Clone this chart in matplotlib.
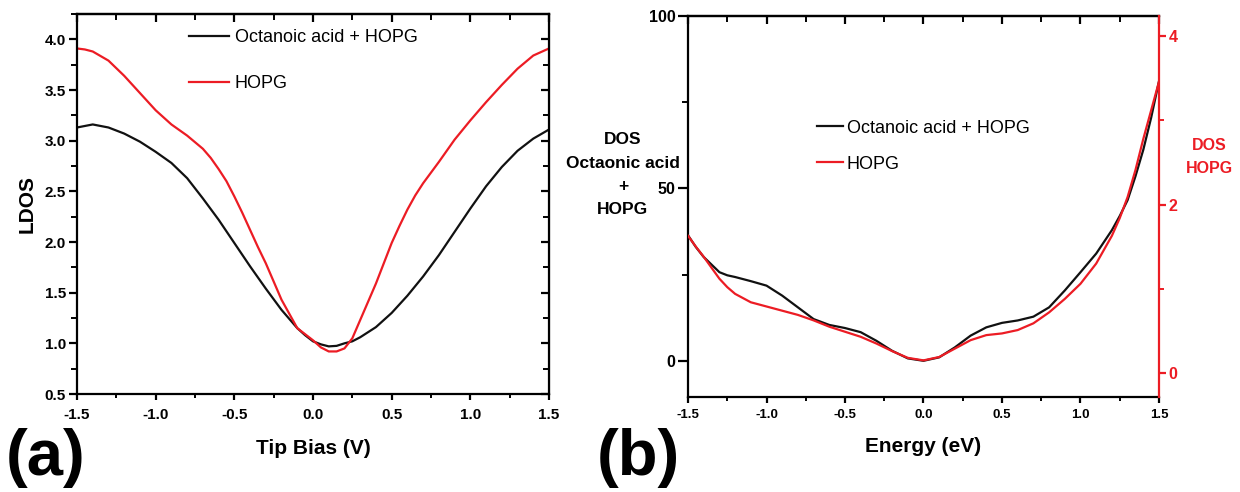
"""
Two-panel LDOS / DOS comparison: octanoic acid on HOPG vs bare HOPG.
"""

import matplotlib
matplotlib.use('Agg')
import matplotlib.pyplot as plt
from matplotlib.ticker import MultipleLocator

plt.rcParams['font.family'] = ['Liberation Sans', 'DejaVu Sans']

RED = '#ec1c24'
BLACK = '#111111'

# Panel (a): LDOS vs tip bias
bias_oct = [-1.5, -1.4, -1.3, -1.2, -1.1, -1.0, -0.9, -0.8, -0.7, -0.6, -0.5,
            -0.4, -0.3, -0.2, -0.1, -0.05, 0.0, 0.05, 0.1, 0.15, 0.2, 0.25,
            0.3, 0.4, 0.5, 0.6, 0.7, 0.8, 0.9, 1.0, 1.1, 1.2, 1.3, 1.4, 1.5]
ldos_oct = [3.13, 3.16, 3.13, 3.07, 2.99, 2.89, 2.78, 2.63, 2.43, 2.22, 1.99,
            1.76, 1.54, 1.33, 1.15, 1.08, 1.02, 0.99, 0.97, 0.975, 1.00, 1.02,
            1.06, 1.16, 1.30, 1.47, 1.66, 1.87, 2.10, 2.33, 2.55, 2.74, 2.90,
            3.02, 3.11]

bias_hopg = [-1.5, -1.45, -1.4, -1.3, -1.2, -1.1, -1.0, -0.9, -0.8, -0.7, -0.65,
             -0.6, -0.55, -0.5, -0.45, -0.4, -0.35, -0.3, -0.25, -0.2, -0.15,
             -0.1, -0.05, 0.0, 0.05, 0.1, 0.15, 0.2, 0.25, 0.3, 0.35, 0.4, 0.45,
             0.5, 0.55, 0.6, 0.65, 0.7, 0.8, 0.9, 1.0, 1.1, 1.2, 1.3, 1.4, 1.5]
ldos_hopg = [3.91, 3.90, 3.88, 3.79, 3.64, 3.47, 3.30, 3.16, 3.05, 2.92, 2.83,
             2.72, 2.60, 2.45, 2.29, 2.12, 1.95, 1.79, 1.61, 1.43, 1.29,
             1.15, 1.09, 1.03, 0.96, 0.92, 0.92, 0.95, 1.05, 1.23, 1.41, 1.59,
             1.79, 1.99, 2.16, 2.32, 2.46, 2.58, 2.79, 3.01, 3.20, 3.38, 3.55,
             3.71, 3.84, 3.91]

# Panel (b): calculated DOS vs energy
energy = [-1.5, -1.45, -1.4, -1.3, -1.25, -1.2, -1.1, -1.0, -0.9, -0.8, -0.7,
          -0.6, -0.5, -0.4, -0.3, -0.2, -0.1, 0.0, 0.1, 0.2, 0.3, 0.4, 0.5,
          0.6, 0.7, 0.8, 0.9, 1.0, 1.1, 1.2, 1.25, 1.3, 1.35, 1.4, 1.45, 1.5]
dos_oct = [36.4, 33.0, 30.1, 25.7, 24.8, 24.3, 23.1, 21.8, 18.9, 15.5, 12.1,
           10.4, 9.5, 8.3, 5.8, 2.9, 0.7, 0.0, 1.0, 3.9, 7.3, 9.7, 11.0,
           11.7, 12.8, 15.5, 20.4, 25.7, 31.1, 37.9, 42.0, 46.6, 53.5, 61.2,
           70.5, 81.1]
dos_hopg = [1.63, 1.50, 1.38, 1.12, 1.02, 0.94, 0.84, 0.79, 0.74, 0.69, 0.625,
            0.55, 0.49, 0.43, 0.35, 0.26, 0.18, 0.15, 0.19, 0.29, 0.39, 0.45,
            0.47, 0.51, 0.59, 0.72, 0.88, 1.06, 1.30, 1.63, 1.84, 2.09, 2.41,
            2.78, 3.12, 3.46]

legend_labels = ['Octanoic acid + HOPG', 'HOPG']
left_title_b = ['DOS', 'Octaonic acid', '+', 'HOPG']


def style_box(ax, xminor, yminor):
    # Origin-like frame: ticks out on bottom/left, in on top
    for sp in ax.spines.values():
        sp.set_linewidth(1.6)
    ax.xaxis.set_minor_locator(MultipleLocator(xminor))
    ax.yaxis.set_minor_locator(MultipleLocator(yminor))
    ax.tick_params(axis='x', which='major', direction='out', length=4, width=1.6,
                   top=False, pad=6)
    ax.tick_params(axis='x', which='minor', direction='out', length=3, width=1.4,
                   top=False)
    top = ax.secondary_xaxis('top')
    top.xaxis.set_major_locator(MultipleLocator(0.5))
    top.xaxis.set_minor_locator(MultipleLocator(xminor))
    top.tick_params(which='major', direction='in', length=6, width=1.6, labeltop=False)
    top.tick_params(which='minor', direction='in', length=4, width=1.4)
    top.spines['top'].set_linewidth(1.6)
    return top


fig = plt.figure(figsize=(12.4, 4.92), dpi=100)

# ---- (a) ----
ax_a = fig.add_axes([77 / 1240, 1 - 394 / 492, 472 / 1240, 380 / 492])
ax_a.plot(bias_oct, ldos_oct, color=BLACK, lw=1.6, label=legend_labels[0])
ax_a.plot(bias_hopg, ldos_hopg, color=RED, lw=1.6, label=legend_labels[1])
ax_a.set_xlim(-1.5, 1.5)
ax_a.set_ylim(0.5, 4.25)
ax_a.xaxis.set_major_locator(MultipleLocator(0.5))
ax_a.yaxis.set_major_locator(MultipleLocator(0.5))
ax_a.xaxis.set_major_formatter(lambda v, p: f'{v:.1f}')
ax_a.yaxis.set_major_formatter(lambda v, p: f'{v:.1f}')
style_box(ax_a, 0.25, 0.25)
ax_a.tick_params(axis='y', which='major', direction='out', length=6, width=1.6, pad=2)
ax_a.tick_params(axis='y', which='minor', direction='out', length=4, width=1.4)
right_a = ax_a.secondary_yaxis('right')
right_a.yaxis.set_major_locator(MultipleLocator(0.5))
right_a.yaxis.set_minor_locator(MultipleLocator(0.25))
right_a.tick_params(which='major', direction='in', length=6, width=1.6, labelright=False)
right_a.tick_params(which='minor', direction='in', length=4, width=1.4)
for lab in ax_a.get_xticklabels() + ax_a.get_yticklabels():
    lab.set_fontweight('bold')
    lab.set_fontsize(11)
ax_a.set_xlabel('Tip Bias (V)', fontsize=15, fontweight='bold', labelpad=12)
ax_a.set_ylabel('LDOS', fontsize=15, fontweight='bold', labelpad=6)
ax_a.legend(loc='upper left', bbox_to_anchor=(0.237, 0.961), frameon=False,
            fontsize=13, borderpad=0, borderaxespad=0, handlelength=2.2,
            handletextpad=0.35, labelspacing=1.61)

# ---- (b) ----
ax_b = fig.add_axes([688 / 1240, 1 - 397 / 492, 471 / 1240, 381 / 492])
ax_b.plot(energy, dos_oct, color=BLACK, lw=1.6, label=legend_labels[0])
ax_b.set_xlim(-1.5, 1.5)
ax_b.set_ylim(-10.5, 100)
ax_b.xaxis.set_major_locator(MultipleLocator(0.5))
ax_b.yaxis.set_major_locator(MultipleLocator(50))
ax_b.xaxis.set_major_formatter(lambda v, p: f'{v:.1f}')
style_box(ax_b, 0.25, 25)
ax_b.tick_params(axis='x', which='major', pad=5)
ax_b.tick_params(axis='y', which='major', direction='out', length=7, width=1.6,
                 pad=2, right=False)
ax_b.tick_params(axis='y', which='minor', direction='out', length=4, width=1.4,
                 right=False)
ax_b.spines['right'].set_visible(False)
for lab in ax_b.get_xticklabels():
    lab.set_fontweight('bold')
    lab.set_fontsize(9.5)
for lab in ax_b.get_yticklabels():
    lab.set_fontweight('bold')
    lab.set_fontsize(11.5)

ax_r = ax_b.twinx()
ax_r.plot(energy, dos_hopg, color=RED, lw=1.6, label=legend_labels[1])
ax_r.set_ylim(-0.285, 4.24)
ax_r.yaxis.set_major_locator(MultipleLocator(2))
ax_r.yaxis.set_minor_locator(MultipleLocator(1))
ax_r.yaxis.set_major_formatter(lambda v, p: f'{v:.0f}')
ax_r.tick_params(axis='y', which='major', direction='out', length=5, width=1.6,
                 colors=RED, pad=2)
ax_r.tick_params(axis='y', which='minor', direction='out', length=3.5, width=1.4,
                 colors=RED)
for side in ['left', 'top', 'bottom']:
    ax_r.spines[side].set_visible(False)
ax_r.spines['right'].set_color(RED)
ax_r.spines['right'].set_linewidth(1.6)
for lab in ax_r.get_yticklabels():
    lab.set_fontweight('bold')
    lab.set_fontsize(11.5)

ax_b.set_xlabel('Energy (eV)', fontsize=15, fontweight='bold', labelpad=11)
handles = ax_b.get_lines()[:1] + ax_r.get_lines()[:1]
ax_r.legend(handles, legend_labels, loc='upper left', bbox_to_anchor=(0.274, 0.728),
            frameon=False, fontsize=13, borderpad=0, borderaxespad=0,
            handlelength=1.45, handletextpad=0.2, labelspacing=1.06)

# Axis titles for panel (b), one text per line as in the original
for i, line in enumerate(left_title_b):
    fig.text(623 / 1240, 1 - (140 + 23 * i) / 492, line, ha='center', va='center',
             fontsize=12.5, fontweight='bold')
fig.text(1209 / 1240, 1 - 146 / 492, 'DOS', ha='center', va='center',
         fontsize=11.5, fontweight='bold', color=RED)
fig.text(1209 / 1240, 1 - 168 / 492, 'HOPG', ha='center', va='center',
         fontsize=11.5, fontweight='bold', color=RED)

# Panel letters
fig.text(6 / 1240, 1 - 458 / 492, '(a)', ha='left', va='center', fontsize=47,
         fontweight='bold')
fig.text(597 / 1240, 1 - 458 / 492, '(b)', ha='left', va='center', fontsize=47,
         fontweight='bold')

fig.savefig('out.png', dpi=100)
